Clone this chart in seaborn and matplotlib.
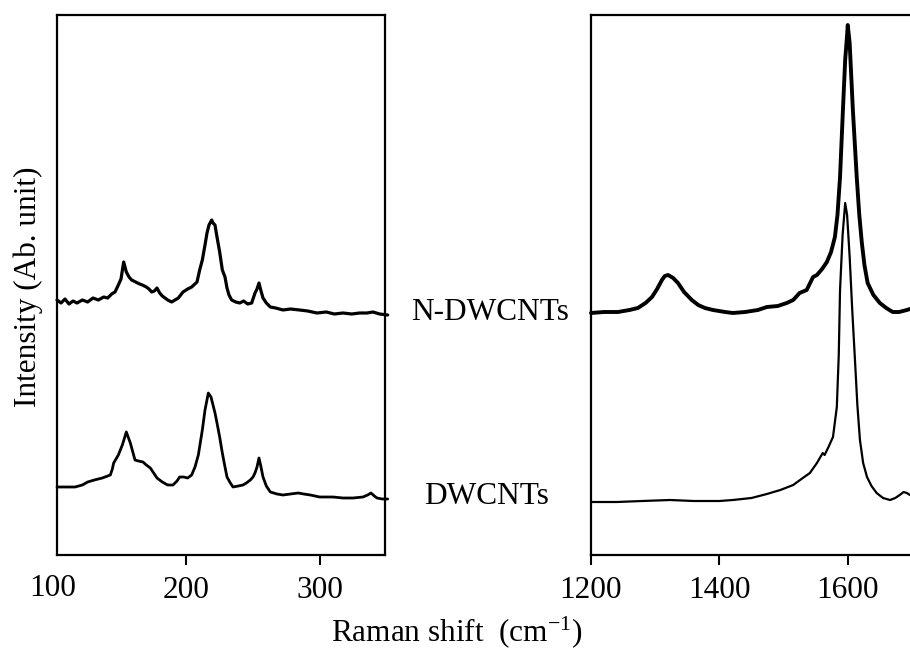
import matplotlib
matplotlib.use('Agg')
import matplotlib.pyplot as plt
import seaborn as sns
import pandas as pd

# Raman spectra (intensity in arbitrary units)
low_shift_n = [103, 106, 109, 112, 115, 118, 122, 126, 130, 134, 138, 141, 144, 146.5, 149, 151, 153, 155, 157,
               159, 162, 165, 167, 170, 172, 174, 176, 178, 180, 182, 184, 186, 189, 191.5, 194, 197.5, 201,
               204, 208, 210, 212, 214, 215.5, 217, 219, 220, 221.5, 223, 225, 227, 229, 230.5, 232, 234,
               237, 240, 243, 246, 249, 251.5, 253, 254.5, 256, 257.5, 260, 263, 267, 272.5, 278, 285, 291,
               298, 305, 311, 317.5, 324, 330, 335.5, 340, 345, 351]
low_int_n = [255, 252, 256, 251, 254, 252, 255, 253, 257, 255, 258, 257, 261, 263, 270, 276, 293, 283, 278,
             275, 273, 271, 270, 268, 266, 263, 264, 267, 262, 259, 257, 255, 253, 255, 257, 263, 266,
             268, 273, 285, 295, 310, 322, 330, 335, 332, 330, 318, 303, 285, 278, 267, 260, 255,
             253, 252, 254, 251, 252, 262, 266, 272, 264, 257, 252, 248, 247, 245, 246, 245, 244,
             242, 243, 241, 242, 241, 242, 242, 243, 241, 240]

low_shift_d = [103, 110, 116.5, 122, 126, 131, 137, 141, 143, 144.5, 145.5, 149, 152, 155, 158, 161.5, 164,
               167.5, 170, 173, 175.5, 178, 182, 186, 190, 193, 195, 198, 201, 204, 206.5, 209, 212, 214,
               216.5, 218.5, 221.5, 223, 225, 227, 229, 230.5, 233, 235, 239, 242.5, 245, 248, 250, 251.5,
               253, 254.5, 256, 257.5, 260, 263, 268, 272.5, 278, 284, 288, 293, 300, 310, 317.5, 325,
               332.5, 336, 338.5, 341, 343, 347, 351]
low_int_d = [68, 68, 68, 70, 73, 75, 77, 79, 80, 86, 92, 100, 110, 123, 112, 95, 94,
             93, 90, 87, 82, 77, 73, 70, 70, 74, 78, 78, 77, 80, 88, 100, 125, 145,
             162, 158, 142, 132, 118, 102, 88, 78, 72, 68, 69, 70, 72, 75, 78, 82,
             88, 97, 88, 78, 69, 63, 61, 60, 61, 62, 61, 60, 58, 58, 57, 57,
             58, 60, 62, 59, 57, 56, 56]

high_shift_n = [1200, 1220, 1242, 1260, 1273, 1285, 1295, 1303, 1310.5, 1315, 1320, 1328, 1335.5, 1345, 1357,
                1367, 1377.5, 1390, 1409, 1421, 1440, 1460, 1474, 1491, 1505, 1515, 1525, 1536, 1546,
                1552, 1560, 1567.5, 1574, 1580, 1584, 1588, 1592.5, 1596, 1599, 1600, 1603, 1608, 1614,
                1618, 1622, 1626, 1631, 1640, 1650, 1660, 1670, 1680, 1692, 1697]
high_int_n = [242, 243, 243, 245, 247, 252, 258, 266, 275, 279, 280, 277, 272, 263, 255,
              250, 247, 245, 243, 242, 243, 245, 248, 249, 252, 255, 262, 265, 278,
              280, 286, 293, 303, 318, 340, 378, 445, 495, 520, 530, 512, 445, 378,
              340, 312, 290, 272, 260, 252, 247, 243, 243, 245, 246]

high_shift_d = [1200, 1240, 1280, 1323, 1360, 1400, 1421, 1450, 1474, 1495, 1515, 1530, 1541, 1552, 1561,
                1564, 1570, 1577, 1583, 1586, 1588, 1592, 1596, 1599, 1603, 1607, 1611, 1615, 1619, 1624,
                1630, 1637, 1645, 1655, 1666, 1674, 1681, 1687, 1692, 1697]
high_int_d = [53, 53, 54, 55, 54, 54, 55, 57, 61, 65, 70, 77, 82, 92, 102,
              100, 108, 118, 148, 200, 265, 320, 352, 340, 298, 245, 198, 150, 115, 92,
              78, 69, 62, 57, 55, 57, 60, 63, 62, 60]

sns.set_style('white')
plt.rcParams['font.family'] = ['Liberation Serif', 'DejaVu Serif']
plt.rcParams['mathtext.default'] = 'regular'
plt.rcParams['text.color'] = 'black'
fs = 22.5

fig = plt.figure(figsize=(9.1, 6.55), dpi=100)
ax1 = fig.add_axes([57 / 910, 1 - 555 / 655, 328 / 910, 540 / 655])
ax2 = fig.add_axes([591 / 910, 1 - 555 / 655, 1 - 591 / 910, 540 / 655])

sns.lineplot(x=low_shift_n, y=low_int_n, ax=ax1, color='black', linewidth=2.3)
sns.lineplot(x=low_shift_d, y=low_int_d, ax=ax1, color='black', linewidth=2.0)
sns.lineplot(x=high_shift_n, y=high_int_n, ax=ax2, color='black', linewidth=2.8)
sns.lineplot(x=high_shift_d, y=high_int_d, ax=ax2, color='black', linewidth=1.6)
for ax in (ax1, ax2):
    for ln in ax.lines:
        ln.set_clip_on(False)
    ax.set_ylim(0, 540)
    ax.set_yticks([])
    ax.set_ylabel('')
    ax.tick_params(axis='x', direction='out', length=7, width=1.5, labelsize=fs, pad=8,
                   bottom=True, colors='black', labelcolor='black')
    for sp in ax.spines.values():
        sp.set_linewidth(1.6)
        sp.set_color('black')

ax1.set_xlim(103, 349)
ax1.set_xticks([200, 300])
ax2.set_xlim(1200, 1697)
ax2.set_xticks([1200, 1400, 1600])
ax2.spines['right'].set_visible(False)

fig.text(53 / 910, 1 - 589 / 655, '100', fontsize=fs, ha='center', va='center', color='black')
fig.text(490 / 910, 1 - 313 / 655, 'N-DWCNTs', fontsize=fs, ha='center', va='center', color='black')
fig.text(487 / 910, 1 - 497 / 655, 'DWCNTs', fontsize=fs, ha='center', va='center', color='black')
fig.text(28 / 910, 1 - 287 / 655, 'Intensity (Ab. unit)', fontsize=fs, ha='center', va='center',
         rotation=90, color='black')
fig.text(457 / 910, 1 - 632 / 655, 'Raman shift  (cm$^{-1}$)', fontsize=fs, ha='center', va='center',
         color='black')

fig.savefig('out.png', dpi=100)
